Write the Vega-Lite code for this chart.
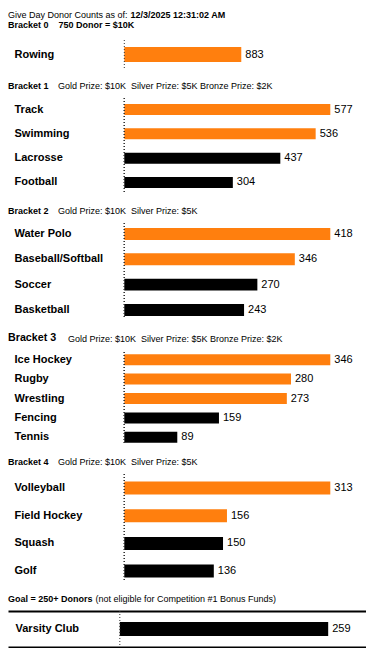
{
  "$schema": "https://vega.github.io/schema/vega-lite/v6.json",
  "padding": {"left": 8, "top": 10, "right": 0, "bottom": 0},
  "spacing": 11,
  "config": {
    "font": "Liberation Sans",
    "view": {"stroke": null},
    "title": {"anchor": "start", "frame": "bounds", "fontSize": 9, "fontWeight": "bold", "color": "#000", "subtitleFontSize": 9, "subtitleFontWeight": "normal", "subtitleColor": "#000", "subtitlePadding": -9, "dx": 0, "offset": 7, "lineHeight": 10, "subtitleLineHeight": 10},
    "axisY": {"labelAlign": "left", "labelPadding": -6, "labelFontSize": 11, "labelFontWeight": "bold", "labelColor": "#000", "domain": false, "ticks": false, "tickSize": 0, "grid": false},
    "text": {"fontSize": 11, "color": "#000"}
  },
  "datasets": {
    "b0": [{"sport": "Rowing", "donors": 883, "award": "Yes"}],
    "b1": [
      {"sport": "Track", "donors": 577, "award": "Yes"},
      {"sport": "Swimming", "donors": 536, "award": "Yes"},
      {"sport": "Lacrosse", "donors": 437, "award": "No"},
      {"sport": "Football", "donors": 304, "award": "No"}
    ],
    "b2": [
      {"sport": "Water Polo", "donors": 418, "award": "Yes"},
      {"sport": "Baseball/Softball", "donors": 346, "award": "Yes"},
      {"sport": "Soccer", "donors": 270, "award": "No"},
      {"sport": "Basketball", "donors": 243, "award": "No"}
    ],
    "b3": [
      {"sport": "Ice Hockey", "donors": 346, "award": "Yes"},
      {"sport": "Rugby", "donors": 280, "award": "Yes"},
      {"sport": "Wrestling", "donors": 273, "award": "Yes"},
      {"sport": "Fencing", "donors": 159, "award": "No"},
      {"sport": "Tennis", "donors": 89, "award": "No"}
    ],
    "b4": [
      {"sport": "Volleyball", "donors": 313, "award": "Yes"},
      {"sport": "Field Hockey", "donors": 156, "award": "Yes"},
      {"sport": "Squash", "donors": 150, "award": "No"},
      {"sport": "Golf", "donors": 136, "award": "No"}
    ],
    "club": [{"sport": "Varsity Club", "donors": 259, "award": "No"}]
  },
  "vconcat": [
    {
      "title": {"text": ["\u200b\u00a0\u00a0\u00a0\u00a0\u00a0\u00a0\u00a0\u00a0\u00a0\u00a0\u00a0\u00a0\u00a0\u00a0\u00a0\u00a0\u00a0\u00a0\u00a0\u00a0\u00a0\u00a0\u00a0\u00a0\u00a0\u00a0\u00a0\u00a0\u00a0\u00a0\u00a0\u00a0\u00a0\u00a0\u00a0\u00a0\u00a0\u00a0\u00a0\u00a0\u00a0\u00a0\u00a0\u00a0\u00a0\u00a0\u00a0\u00a0\u00a012/3/2025 12:31:02 AM", "Bracket 0\u00a0\u00a0\u00a0\u00a0750 Donor = $10K"], "subtitle": "Give Day Donor Counts as of:", "subtitlePadding": -19, "offset": 10},
      "width": 358, "height": 29,
      "data": {"name": "b0"},
      "layer": [
        {"mark": "bar", "encoding": {
          "y": {"field": "sport", "type": "nominal", "sort": null, "scale": {"paddingInner": 0, "paddingOuter": 0.47}, "axis": {"title": null}},
          "x": {"field": "donors", "type": "quantitative", "scale": {"domain": [0, 1555], "range": [116.3, 322.3], "nice": false}, "axis": null},
          "color": {"field": "award", "type": "nominal", "scale": {"domain": ["Yes", "No"], "range": ["#ff7f0e", "#000000"]}, "legend": null}}},
        {"mark": {"type": "text", "align": "left", "dx": 4, "baseline": "middle"}, "encoding": {
          "y": {"field": "sport", "type": "nominal", "sort": null},
          "x": {"field": "donors", "type": "quantitative", "axis": null},
          "text": {"field": "donors", "type": "quantitative"}}},
        {"mark": {"type": "rule", "strokeDash": [1, 2], "color": "#333"}, "encoding": {"x": {"datum": 0, "type": "quantitative", "axis": null}}}
      ]
    },
    {
      "title": {"text": "Bracket 1", "subtitle": "\u200b\u00a0\u00a0\u00a0\u00a0\u00a0\u00a0\u00a0\u00a0\u00a0\u00a0\u00a0\u00a0\u00a0\u00a0\u00a0\u00a0\u00a0\u00a0\u00a0\u00a0Gold Prize: $10K\u00a0\u00a0Silver Prize: $5K Bronze Prize: $2K"},
      "width": 358, "height": 96,
      "data": {"name": "b1"},
      "layer": [
        {"mark": "bar", "encoding": {
          "y": {"field": "sport", "type": "nominal", "sort": null, "scale": {"paddingInner": 0.547, "paddingOuter": 0.25}, "axis": {"title": null}},
          "x": {"field": "donors", "type": "quantitative", "scale": {"domain": [0, 577], "range": [116.3, 322.3], "nice": false}, "axis": null},
          "color": {"field": "award", "type": "nominal", "legend": null}}},
        {"mark": {"type": "text", "align": "left", "dx": 4, "baseline": "middle"}, "encoding": {
          "y": {"field": "sport", "type": "nominal", "sort": null},
          "x": {"field": "donors", "type": "quantitative", "axis": null},
          "text": {"field": "donors", "type": "quantitative"}}},
        {"mark": {"type": "rule", "strokeDash": [1, 2], "color": "#333"}, "encoding": {"x": {"datum": 0, "type": "quantitative", "axis": null}}}
      ]
    },
    {
      "title": {"text": "Bracket 2", "subtitle": "\u200b\u00a0\u00a0\u00a0\u00a0\u00a0\u00a0\u00a0\u00a0\u00a0\u00a0\u00a0\u00a0\u00a0\u00a0\u00a0\u00a0\u00a0\u00a0\u00a0\u00a0Gold Prize: $10K\u00a0\u00a0Silver Prize: $5K"},
      "width": 358, "height": 96,
      "data": {"name": "b2"},
      "layer": [
        {"mark": "bar", "encoding": {
          "y": {"field": "sport", "type": "nominal", "sort": null, "scale": {"paddingInner": 0.526, "paddingOuter": 0.16, "align": 0.62}, "axis": {"title": null}},
          "x": {"field": "donors", "type": "quantitative", "scale": {"domain": [0, 418], "range": [116.3, 322.3], "nice": false}, "axis": null},
          "color": {"field": "award", "type": "nominal", "legend": null}}},
        {"mark": {"type": "text", "align": "left", "dx": 4, "baseline": "middle"}, "encoding": {
          "y": {"field": "sport", "type": "nominal", "sort": null},
          "x": {"field": "donors", "type": "quantitative", "axis": null},
          "text": {"field": "donors", "type": "quantitative"}}},
        {"mark": {"type": "rule", "strokeDash": [1, 2], "color": "#333"}, "encoding": {"x": {"datum": 0, "type": "quantitative", "axis": null}}}
      ]
    },
    {
      "title": {"text": "Bracket 3", "fontSize": 10.7, "subtitle": "\u200b\u00a0\u00a0\u00a0\u00a0\u00a0\u00a0\u00a0\u00a0\u00a0\u00a0\u00a0\u00a0\u00a0\u00a0\u00a0\u00a0\u00a0\u00a0\u00a0\u00a0\u00a0\u00a0\u00a0\u00a0Gold Prize: $10K\u00a0\u00a0Silver Prize: $5K Bronze Prize: $2K", "lineHeight": 11, "subtitlePadding": -9, "offset": 7},
      "width": 358, "height": 93,
      "data": {"name": "b3"},
      "layer": [
        {"mark": "bar", "encoding": {
          "y": {"field": "sport", "type": "nominal", "sort": null, "scale": {"paddingInner": 0.433, "paddingOuter": 0.113}, "axis": {"title": null}},
          "x": {"field": "donors", "type": "quantitative", "scale": {"domain": [0, 346], "range": [116.3, 322.3], "nice": false}, "axis": null},
          "color": {"field": "award", "type": "nominal", "legend": null}}},
        {"mark": {"type": "text", "align": "left", "dx": 4, "baseline": "middle"}, "encoding": {
          "y": {"field": "sport", "type": "nominal", "sort": null},
          "x": {"field": "donors", "type": "quantitative", "axis": null},
          "text": {"field": "donors", "type": "quantitative"}}},
        {"mark": {"type": "rule", "strokeDash": [1, 2], "color": "#333"}, "encoding": {"x": {"datum": 0, "type": "quantitative", "axis": null}}}
      ]
    },
    {
      "title": {"text": "Bracket 4", "subtitle": "\u200b\u00a0\u00a0\u00a0\u00a0\u00a0\u00a0\u00a0\u00a0\u00a0\u00a0\u00a0\u00a0\u00a0\u00a0\u00a0\u00a0\u00a0\u00a0\u00a0\u00a0Gold Prize: $10K\u00a0\u00a0Silver Prize: $5K"},
      "width": 358, "height": 108,
      "data": {"name": "b4"},
      "layer": [
        {"mark": "bar", "encoding": {
          "y": {"field": "sport", "type": "nominal", "sort": null, "scale": {"paddingInner": 0.53, "paddingOuter": 0.215, "align": 0.63}, "axis": {"title": null}},
          "x": {"field": "donors", "type": "quantitative", "scale": {"domain": [0, 313], "range": [116.3, 322.3], "nice": false}, "axis": null},
          "color": {"field": "award", "type": "nominal", "legend": null}}},
        {"mark": {"type": "text", "align": "left", "dx": 4, "baseline": "middle"}, "encoding": {
          "y": {"field": "sport", "type": "nominal", "sort": null},
          "x": {"field": "donors", "type": "quantitative", "axis": null},
          "text": {"field": "donors", "type": "quantitative"}}},
        {"mark": {"type": "rule", "strokeDash": [1, 2], "color": "#333"}, "encoding": {"x": {"datum": 0, "type": "quantitative", "axis": null}}}
      ]
    },
    {
      "title": {"text": "Goal = 250+ Donors", "subtitle": "\u200b\u00a0\u00a0\u00a0\u00a0\u00a0\u00a0\u00a0\u00a0\u00a0\u00a0\u00a0\u00a0\u00a0\u00a0\u00a0\u00a0\u00a0\u00a0\u00a0\u00a0\u00a0\u00a0\u00a0\u00a0\u00a0\u00a0\u00a0\u00a0\u00a0\u00a0\u00a0\u00a0\u00a0\u00a0\u00a0(not eligible for Competition #1 Bonus Funds)"},
      "width": 358, "height": 36,
      "data": {"name": "club"},
      "resolve": {"axis": {"x": "independent"}},
      "layer": [
        {"mark": "bar", "encoding": {
          "y": {"field": "sport", "type": "nominal", "sort": null, "scale": {"paddingInner": 0, "paddingOuter": 0.786}, "axis": {"title": null, "labelPadding": -7}},
          "x": {"field": "donors", "type": "quantitative", "scale": {"domain": [-139, 306], "nice": false, "zero": false}, "axis": {"orient": "bottom", "domain": true, "domainWidth": 2, "domainColor": "#000", "labels": false, "ticks": false, "grid": false, "title": null}},
          "color": {"value": "#000"}}},
        {"mark": {"type": "text", "align": "left", "dx": 4, "baseline": "middle"}, "encoding": {
          "y": {"field": "sport", "type": "nominal", "sort": null},
          "x": {"field": "donors", "type": "quantitative", "axis": null},
          "text": {"field": "donors", "type": "quantitative"}}},
        {"mark": {"type": "rule", "strokeDash": [1, 2], "color": "#333"}, "encoding": {"x": {"datum": 0, "type": "quantitative", "axis": {"orient": "top", "domain": true, "domainWidth": 2, "domainColor": "#000", "labels": false, "ticks": false, "grid": false, "title": null}}}}
      ]
    }
  ]
}
